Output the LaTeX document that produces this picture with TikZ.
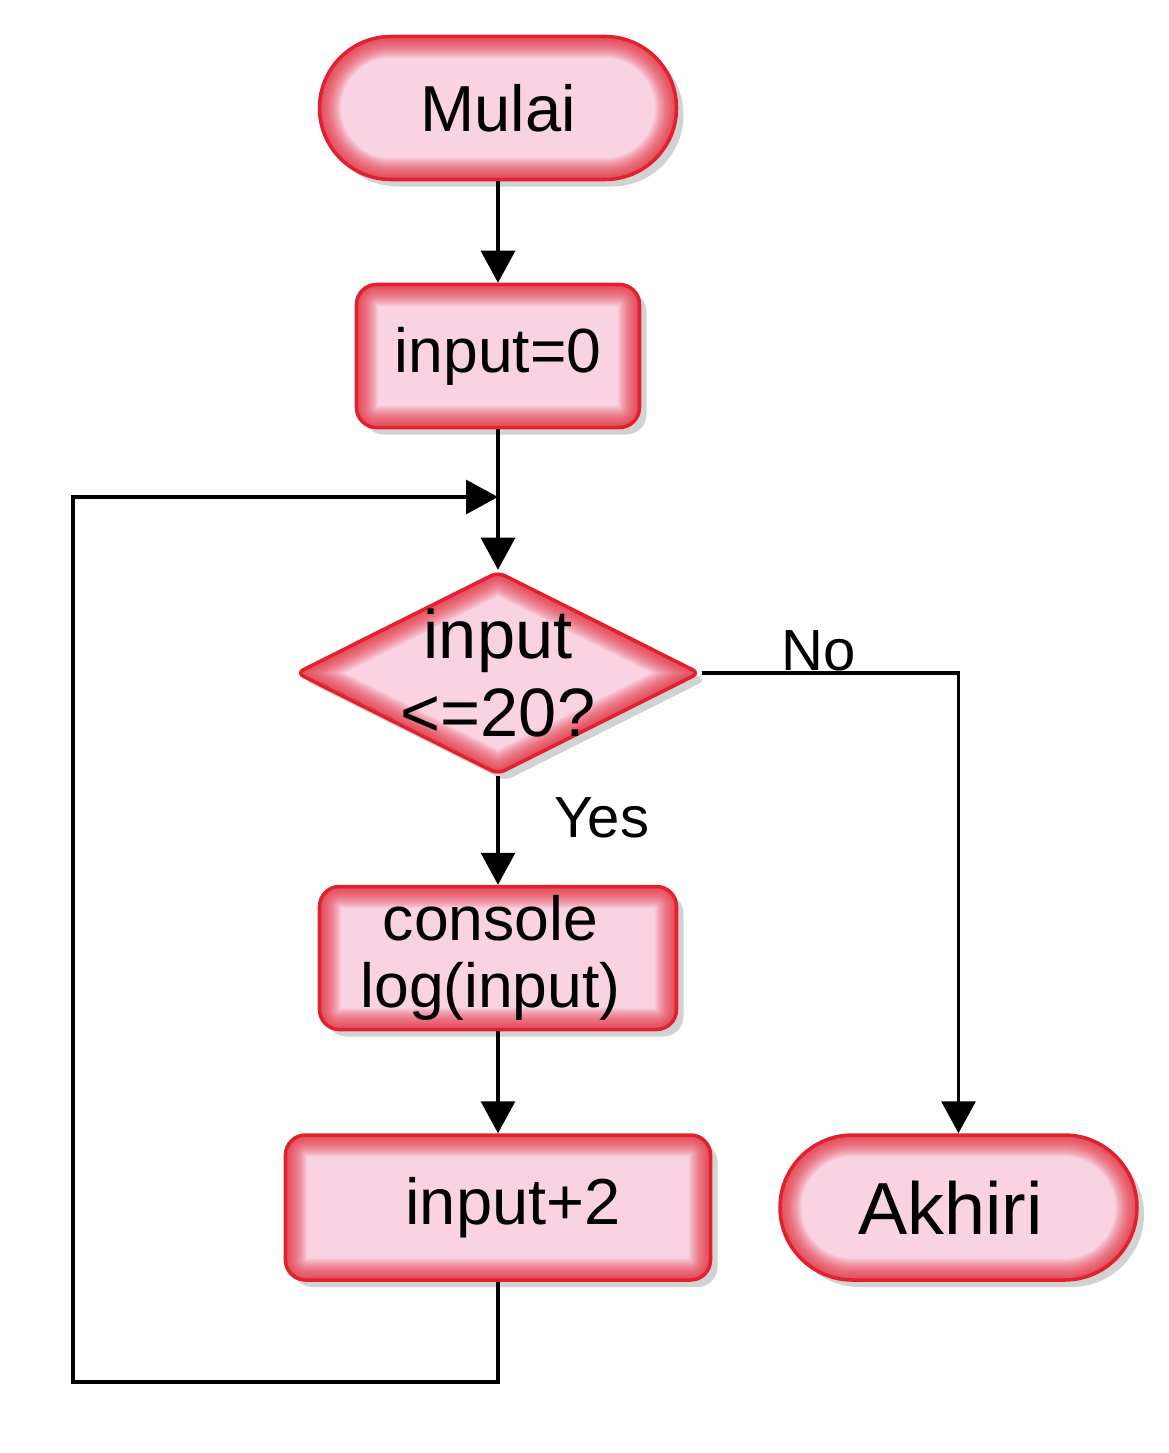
\documentclass[tikz,border=0pt]{standalone}
\usepackage{fontspec}
\setmainfont{Liberation Sans}
\usetikzlibrary{shapes.geometric,arrows.meta,shadows,positioning}
\definecolor{flowred}{HTML}{E2212E}
\definecolor{flowpink}{HTML}{F9D3E2}
\tikzset{
  glow/.style={path picture={
      \foreach \w in {2,4,...,24}
        \draw[flowred, opacity=.1, line width=\w pt] #1;
    }},
  flowshadow/.style={drop shadow={shadow xshift=.14cm, shadow yshift=-.14cm, opacity=.25, fill=black!70}},
  pill/.style={draw=flowred, fill=flowpink, line width=2pt, inner sep=0,
    rounded corners=#1, flowshadow,
    glow={[rounded corners=#1] (path picture bounding box.south west) rectangle (path picture bounding box.north east)}},
  stepbox/.style={draw=flowred, fill=flowpink, line width=2pt, inner sep=0,
    rounded corners=.4cm, align=center, flowshadow,
    glow={[rounded corners=.4cm] (path picture bounding box.south west) rectangle (path picture bounding box.north east)}},
  decide/.style={shape=diamond, draw=flowred, fill=flowpink, line width=2pt, inner sep=0,
    rounded corners=.15cm, flowshadow,
    glow={(path picture bounding box.north) -- (path picture bounding box.east) -- (path picture bounding box.south) -- (path picture bounding box.west) -- cycle}},
  arr/.style={-{Triangle[width=.68cm,length=.64cm]}, line width=1.8pt},
  flowline/.style={line width=1.8pt},
}
\begin{document}
\begin{tikzpicture}
\useasboundingbox (0,0) rectangle (23.38,-29.06);
\node[pill=1.43cm, minimum width=7.14cm, minimum height=2.86cm, font=\fontsize{37}{40}\selectfont] (start) at (9.96,-2.16) {Mulai};
\node[stepbox, minimum width=5.66cm, minimum height=2.86cm, font=\fontsize{35.5}{38}\selectfont] (init) at (9.96,-7.12) {input=0};
\node[decide, minimum width=8.08cm, minimum height=4.06cm,
  label={[font=\fontsize{39}{44}\selectfont, align=center]center:{input\\<=20?}}] (cond) at (9.96,-13.46) {};
\node[stepbox, minimum width=7.14cm, minimum height=2.86cm, font=\fontsize{35.5}{38.5}\selectfont] (show) at (9.96,-19.16) {console\hspace*{.3cm}\\log(input)\hspace*{.3cm}};
\node[stepbox, minimum width=8.5cm, minimum height=2.9cm, font=\fontsize{37}{40}\selectfont] (incr) at (9.96,-24.15) {\hspace*{.6cm}input+2};
\node[pill=1.45cm, minimum width=7.14cm, minimum height=2.9cm, font=\fontsize{42}{45}\selectfont] (stop) at (19.17,-24.15) {\hspace*{-.32cm}Akhiri};

\coordinate (join) at (9.96,-9.94);
\coordinate (loopbl) at (1.46,-27.64);

\draw[arr] (start) -- (init);
\draw[flowline] (init) -- (join);
\draw[arr] (join) -- (cond);
\draw[arr] (cond) -- (show)
  node[pos=.38, anchor=west, inner sep=0, xshift=1.1cm, font=\fontsize{33}{36}\selectfont] {Yes};
\draw[arr] (cond.east) -| (stop.north)
  node[pos=.227, anchor=south, inner sep=0, font=\fontsize{33}{36}\selectfont] {No};
\draw[arr] (show) -- (incr);
\draw[arr] (incr.south) |- (loopbl) |- (join);
\end{tikzpicture}
\end{document}
